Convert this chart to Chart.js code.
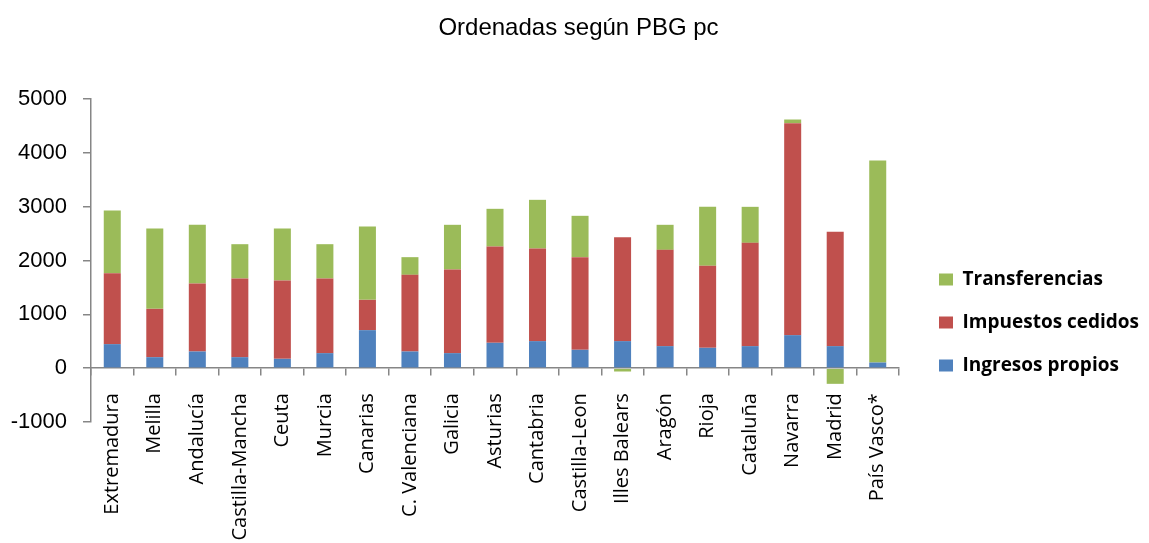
<!DOCTYPE html>
<html>
<head>
<meta charset="utf-8">
<script src="https://cdn.jsdelivr.net/npm/chart.js@4/dist/chart.umd.min.js"></script>
<style>
  html, body { margin: 0; padding: 0; background: #ffffff; }
  #wrap { width: 1149px; height: 543px; position: relative; }
</style>
</head>
<body>
<div id="wrap"><canvas id="c" width="1149" height="543"></canvas></div>
<script>
const titleText = 'Ordenadas según PBG pc';
const categories = ['Extremadura', 'Melilla', 'Andalucía', 'Castilla-Mancha', 'Ceuta', 'Murcia', 'Canarias', 'C. Valenciana', 'Galicia', 'Asturias', 'Cantabria', 'Castilla-Leon', 'Illes Balears', 'Aragón', 'Rioja', 'Cataluña', 'Navarra', 'Madrid', 'País Vasco*'];
const seriesNames = ['Ingresos propios', 'Impuestos cedidos', 'Transferencias'];
const ingresosPropios = [446, 204, 310, 204, 173, 279, 706, 310, 279, 471, 502, 341, 502, 409, 378, 409, 613, 409, 105];
const impuestosCedidos = [1319, 898, 1263, 1462, 1455, 1387, 563, 1424, 1554, 1789, 1721, 1721, 1931, 1789, 1523, 1919, 3938, 2124, 0];
const transferencias = [1164, 1492, 1090, 637, 966, 637, 1363, 328, 830, 700, 904, 768, -62, 465, 1096, 669, 68, -291, 3753];
const yMin = -1000, yMax = 5000, yStep = 1000;

const seriesColors = ['#4F81BD', '#C0504D', '#9BBB59'];
const axisColor = '#868686';

// Places the title and the right-hand legend block where they sit in the reference.
const blockPlace = {
  id: 'blockPlace',
  afterLayout(chart) {
    const lg = chart.legend;
    if (lg) {
      lg.left = 915; lg.right = 1149; lg.width = lg.right - lg.left;
      lg.top = 246; lg.bottom = 543; lg.height = lg.bottom - lg.top;
    }
    const tb = chart.titleBlock;
    if (tb) {
      tb.left = 0; tb.right = 1157; tb.width = tb.right - tb.left;
    }
  }
};

new Chart(document.getElementById('c'), {
  type: 'bar',
  data: {
    labels: categories,
    datasets: [
      { label: seriesNames[0], data: ingresosPropios, backgroundColor: seriesColors[0] },
      { label: seriesNames[1], data: impuestosCedidos, backgroundColor: seriesColors[1] },
      { label: seriesNames[2], data: transferencias, backgroundColor: seriesColors[2] }
    ]
  },
  options: {
    responsive: false,
    animation: false,
    devicePixelRatio: 1,
    layout: { padding: { left: 0, right: 50, top: 0, bottom: 121 } },
    datasets: { bar: { barPercentage: 0.4, categoryPercentage: 1.0, borderWidth: 0 } },
    plugins: {
      title: {
        display: true,
        text: titleText,
        color: '#000000',
        font: { family: '"Liberation Sans", Arial, sans-serif', size: 24, weight: 'normal', lineHeight: 1.2 },
        padding: { top: 13.5, bottom: 56.7 }
      },
      legend: {
        display: true,
        position: 'right',
        align: 'start',
        reverse: true,
        maxWidth: 200,
        labels: {
          color: '#000000',
          font: { family: '"Open Sans", sans-serif', size: 19, weight: 'bold' },
          boxWidth: 14,
          boxHeight: 12,
          padding: 24
        }
      },
      tooltip: { enabled: false }
    },
    scales: {
      x: {
        stacked: true,
        position: { y: 0 },
        offset: true,
        grid: {
          display: true,
          offset: true,
          drawOnChartArea: false,
          drawTicks: true,
          tickLength: 7,
          color: axisColor,
          lineWidth: 1.5
        },
        border: { display: true, color: axisColor, width: 1.5 },
        ticks: {
          autoSkip: false,
          maxRotation: 90,
          minRotation: 90,
          padding: 18,
          color: '#000000',
          font: { family: '"Open Sans", sans-serif', size: 20 }
        }
      },
      y: {
        stacked: true,
        min: yMin,
        max: yMax,
        afterFit(scale) { scale.width = 91; },
        grid: {
          display: true,
          drawOnChartArea: false,
          drawTicks: true,
          tickLength: 8,
          color: axisColor,
          lineWidth: 1.5
        },
        border: { display: true, color: axisColor, width: 1.5 },
        ticks: {
          stepSize: yStep,
          padding: 16,
          color: '#000000',
          font: { family: '"Liberation Sans", Arial, sans-serif', size: 22 },
          callback: (v) => String(v)
        }
      }
    }
  },
  plugins: [blockPlace]
});
</script>
</body>
</html>
